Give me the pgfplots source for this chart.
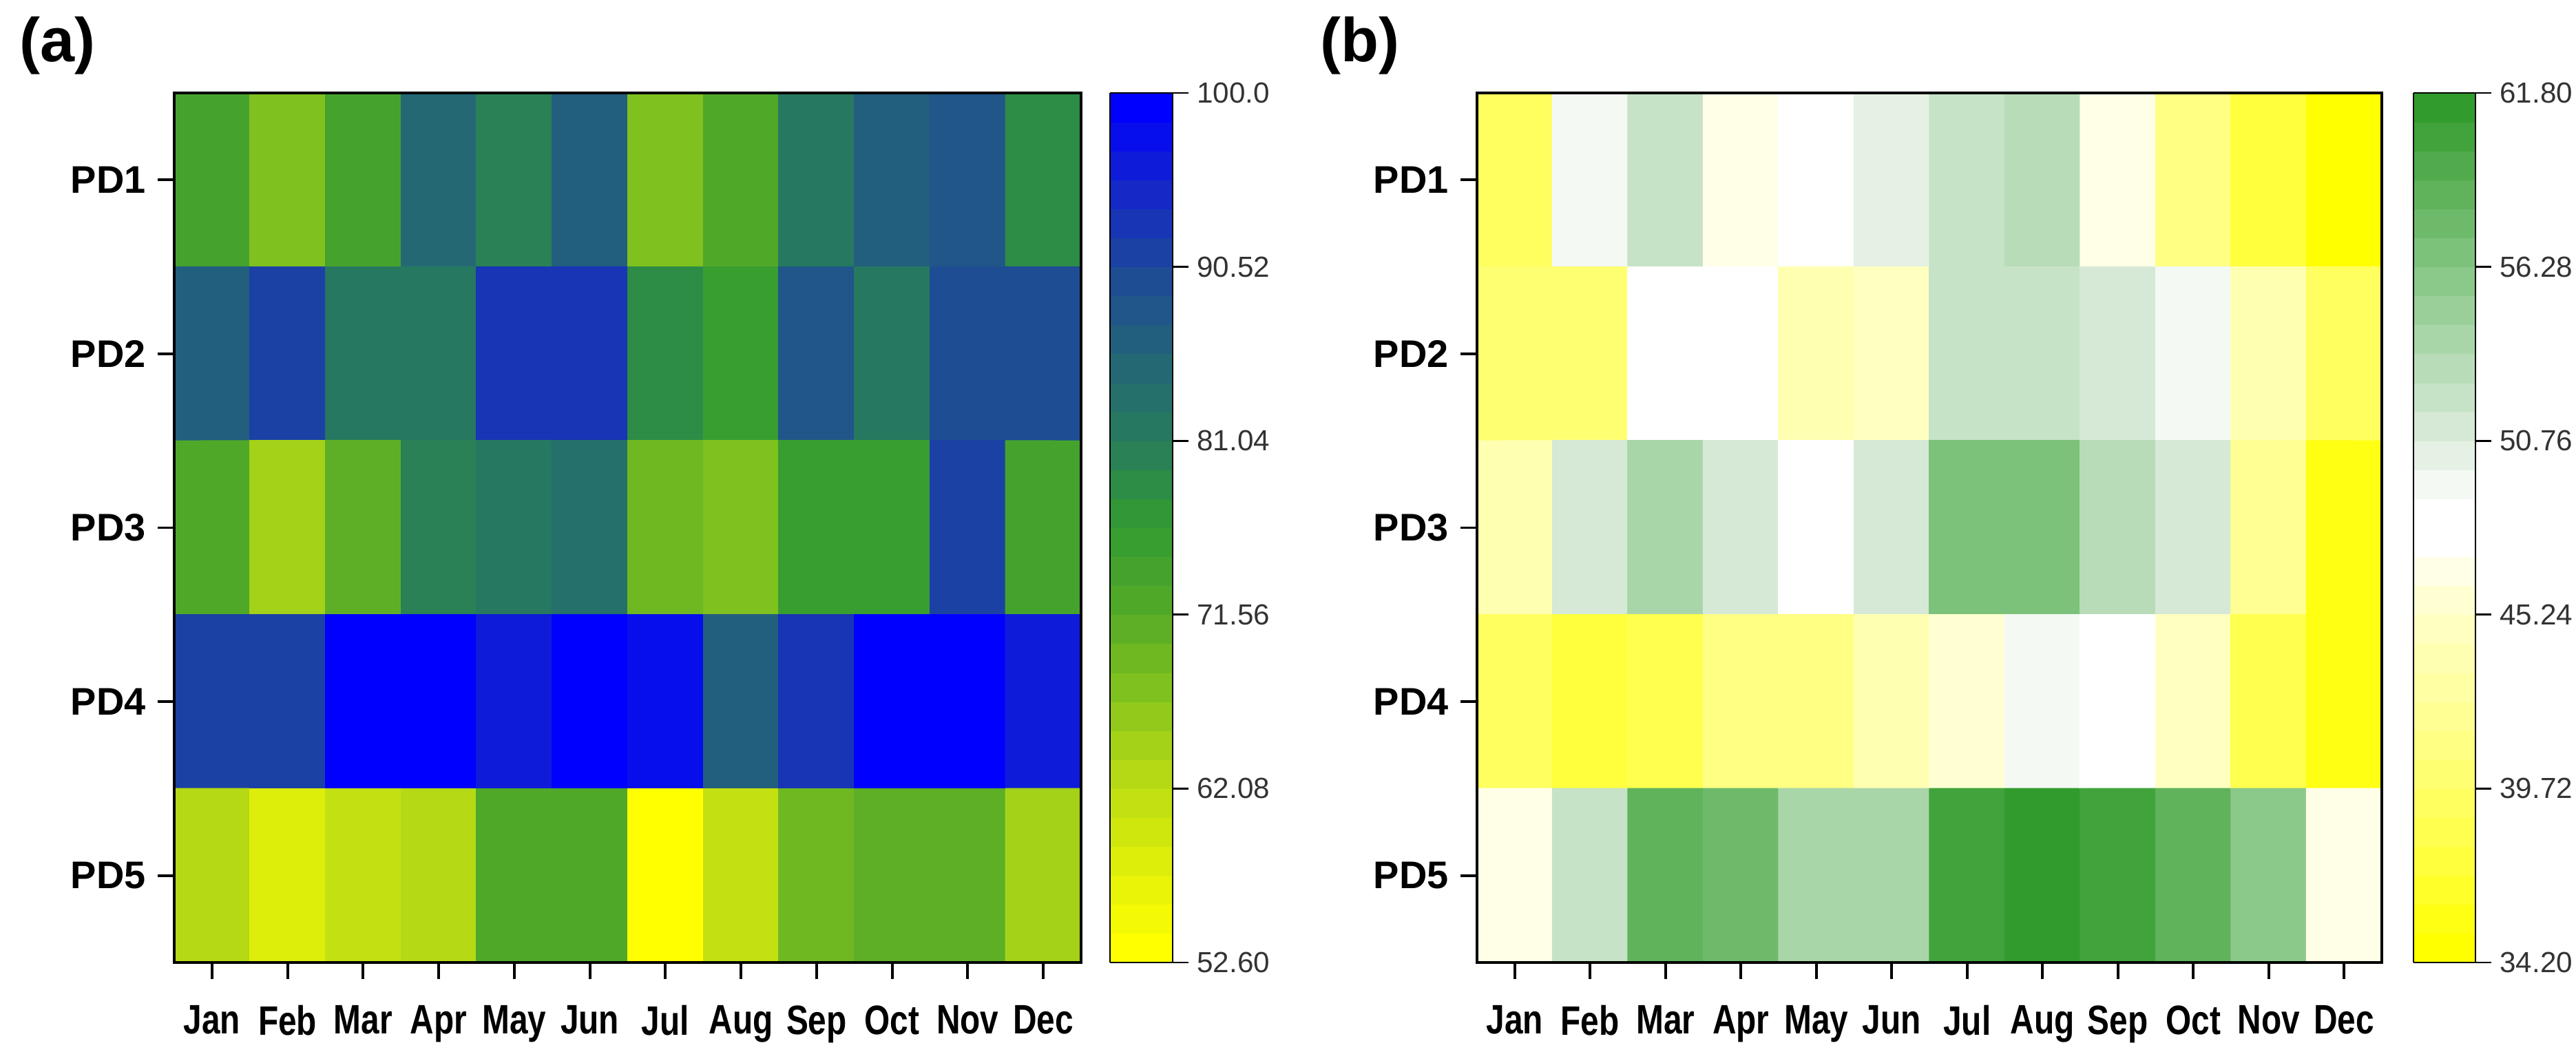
\documentclass[border=0pt]{standalone}
\usepackage{fontspec}
\setmainfont{Liberation Sans}
\usepackage{graphicx}
\usepackage{pgfplots}
\pgfplotsset{compat=1.18}

% colour scales, positions = (value - min)*10
\pgfplotsset{
  colormap={agb}{rgb255(0)=(255,255,0); rgb255(44)=(225,240,10); rgb255(94)=(185,220,20);
    rgb255(144)=(130,195,30); rgb255(189)=(85,170,40); rgb255(239)=(50,155,50);
    rgb255(284)=(40,125,90); rgb255(334)=(35,100,120); rgb255(379)=(30,75,150);
    rgb255(427)=(20,40,200); rgb255(474)=(0,0,255)},
  colormap={ywg}{rgb255(0)=(255,255,0); rgb255(28)=(255,255,60); rgb255(55)=(255,255,110);
    rgb255(83)=(255,255,160); rgb255(110)=(255,255,200); rgb255(123)=(255,255,230);
    rgb255(133)=(255,255,255); rgb255(145)=(255,255,255); rgb255(166)=(222,237,222);
    rgb255(193)=(180,218,180); rgb255(221)=(135,200,135); rgb255(248)=(95,178,90);
    rgb255(276)=(50,155,45)},
  colormap={agbs}{samples of colormap=(30 of agb)},
  colormap={ywgs}{samples of colormap=(30 of ywg)},
  heat/.style={
    scale only axis, height=12.63cm, axis on top,
    xmin=-0.5, xmax=11.5, ymin=0.5, ymax=5.5, y dir=reverse,
    xtick={0,...,11},
    xticklabels={\scalebox{0.8}[1]{Jan},\scalebox{0.8}[1]{Feb},\scalebox{0.8}[1]{Mar},
      \scalebox{0.8}[1]{Apr},\scalebox{0.8}[1]{May},\scalebox{0.8}[1]{Jun},
      \scalebox{0.8}[1]{Jul},\scalebox{0.8}[1]{Aug},\scalebox{0.8}[1]{Sep},
      \scalebox{0.8}[1]{Oct},\scalebox{0.8}[1]{Nov},\scalebox{0.8}[1]{Dec}},
    ytick={1,...,5}, yticklabels={PD1,PD2,PD3,PD4,PD5},
    xtick pos=bottom, ytick pos=left,
    tick align=outside, major tick length=0.24cm,
    axis line style={line width=1.1pt},
    tick style={line width=1.1pt, black},
    xticklabel style={font=\bfseries\fontsize{17}{20}\selectfont, yshift=-0.26cm},
    yticklabel style={font=\bfseries\fontsize{15.9}{18}\selectfont, xshift=-0.05cm},
    colormap access=piecewise constant,
    colorbar,
  },
  cbar/.style={
    at={(parent axis.north east)}, anchor=north west,
    width=0.91cm, axis on top,
    tick align=outside, ytick pos=right, major tick length=0.23cm,
    axis line style={line width=0.8pt},
    tick style={line width=0.8pt, black},
    yticklabel style={font=\fontsize{12}{14}\selectfont, text=black!80},
  },
}

\begin{document}
\begin{tikzpicture}
\useasboundingbox (0,0) rectangle (37.41,-15.28);

\node[anchor=west, inner sep=0, font=\bfseries\fontsize{25.6}{30}\selectfont] at (0.28,-0.66) {(a)};
\node[anchor=west, inner sep=0, font=\bfseries\fontsize{25.6}{30}\selectfont] at (19.17,-0.66) {(b)};

\begin{axis}[heat,
  at={(2.53cm,-1.35cm)}, anchor=north west, width=13.17cm,
  colormap name=agbs, point meta min=52.6, point meta max=100,
  colorbar shift/.style={xshift=0.42cm},
  colorbar style={cbar,
    ytick={52.6,62.08,71.56,81.04,90.52,100},
    yticklabels={52.60,62.08,71.56,81.04,90.52,100.0}},
]
\addplot[matrix plot*, mesh/cols=12, point meta=explicit] table[meta=v] {
x y v
0 1 73.5
1 1 67.5
2 1 73.5
3 1 85
4 1 79.5
5 1 86
6 1 67.5
7 1 72.5
8 1 81.5
9 1 86
10 1 88
11 1 78
0 2 86
1 2 91.5
2 2 81.5
3 2 81.5
4 2 93
5 2 93
6 2 78
7 2 76
8 2 87.5
9 2 81.5
10 2 89.5
11 2 89.5
0 3 73
1 3 65
2 3 71.5
3 3 80.5
4 3 81.5
5 3 83
6 3 69.5
7 3 67.5
8 3 76
9 3 76
10 3 91.5
11 3 74
0 4 91
1 4 91
2 4 99.5
3 4 99.5
4 4 96
5 4 99
6 4 98
7 4 86
8 4 93.5
9 4 99.5
10 4 99.5
11 4 96.5
0 5 63
1 5 57.5
2 5 61.5
3 5 63
4 5 73
5 5 73
6 5 52.6
7 5 61.5
8 5 68.5
9 5 70
10 5 71.5
11 5 64
};
\end{axis}

\begin{axis}[heat,
  at={(21.45cm,-1.35cm)}, anchor=north west, width=13.14cm,
  colormap name=ywgs, point meta min=34.2, point meta max=61.8,
  colorbar shift/.style={xshift=0.46cm},
  colorbar style={cbar, width=0.90cm,
    ytick={34.2,39.72,45.24,50.76,56.28,61.8},
    yticklabels={34.20,39.72,45.24,50.76,56.28,61.80}},
]
\addplot[matrix plot*, mesh/cols=12, point meta=explicit] table[meta=v] {
x y v
0 1 39.5
1 1 49.3
2 1 52.5
3 1 46.8
4 1 48.1
5 1 50.3
6 1 52.5
7 1 53.5
8 1 46.8
9 1 41.5
10 1 37
11 1 34.5
0 2 40
1 2 40.5
2 2 48.1
3 2 48.1
4 2 44
5 2 45
6 2 52.5
7 2 52.5
8 2 51.5
9 2 49.3
10 2 43.5
11 2 39
0 3 43.5
1 3 51.5
2 3 54.3
3 3 51.5
4 3 48.1
5 3 51.5
6 3 57
7 3 57
8 3 53.5
9 3 51.5
10 3 42
11 3 36
0 4 39
1 4 37.5
2 4 38
3 4 41
4 4 41
5 4 43.5
6 4 46
7 4 49.3
8 4 48.1
9 4 44.5
10 4 38
11 4 36
0 5 46.9
1 5 52.5
2 5 59
3 5 58
4 5 54
5 5 54
6 5 60
7 5 61.5
8 5 60
9 5 59
10 5 55.5
11 5 46.9
};
\end{axis}
\end{tikzpicture}
\end{document}
